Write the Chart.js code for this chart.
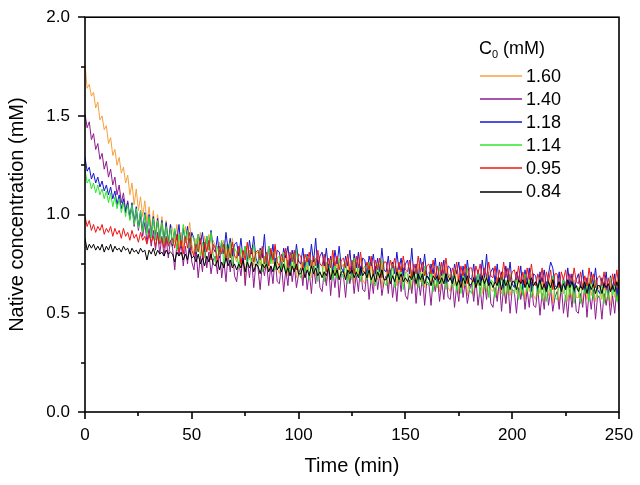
<!DOCTYPE html>
<html lang="en">
<head>
<meta charset="UTF-8" />
<title>Native concentration vs time</title>
<script src="https://cdn.jsdelivr.net/npm/chart.js"></script>
<style>
  body { margin: 0; background: #fff; }
  #wrap { width: 640px; height: 485px; }
</style>
</head>
<body>
<div id="wrap"><canvas id="chart" width="640" height="485"></canvas></div>
<script>
  // C0 values (mM) shown in legend, and their line colours
  const seriesNames = ['1.60', '1.40', '1.18', '1.14', '0.95', '0.84'];
  const seriesColors = ['#f7a03c', '#8e1a8e', '#1414d2', '#2ee62e', '#ee1414', '#000000'];

  // one reading per minute, 0..250 min
  const time = [];
  for (let t = 0; t <= 250; t++) time.push(t);

  const c160 = [1.76,1.64,1.66,1.60,1.62,1.54,1.57,1.48,1.50,1.43,1.45,
    1.36,1.39,1.30,1.33,1.25,1.29,1.21,1.24,1.16,1.20,
    1.10,1.16,1.05,1.13,1.02,1.09,0.99,1.07,0.96,1.04,
    0.92,1.02,0.90,1.00,0.89,0.99,0.87,0.97,0.86,0.95,
    0.93,0.86,0.95,0.84,0.91,0.83,0.94,0.87,0.96,0.85,
    0.80,0.88,0.83,0.91,0.79,0.89,0.82,0.90,0.78,0.87,
    0.84,0.76,0.86,0.81,0.87,0.77,0.85,0.78,0.88,0.79,
    0.76,0.84,0.73,0.81,0.65,0.86,0.77,0.83,0.74,0.80,
    0.81,0.74,0.83,0.72,0.79,0.71,0.82,0.75,0.84,0.73,
    0.70,0.78,0.73,0.81,0.69,0.79,0.72,0.80,0.68,0.77,
    0.75,0.67,0.77,0.72,0.78,0.68,0.76,0.69,0.79,0.70,
    0.69,0.77,0.66,0.74,0.68,0.79,0.70,0.76,0.67,0.73,
    0.75,0.68,0.77,0.66,0.73,0.65,0.76,0.69,0.78,0.67,
    0.65,0.73,0.68,0.76,0.64,0.74,0.67,0.75,0.63,0.72,
    0.71,0.63,0.73,0.68,0.74,0.64,0.72,0.65,0.75,0.66,
    0.65,0.73,0.62,0.70,0.64,0.75,0.66,0.72,0.63,0.69,
    0.71,0.64,0.73,0.62,0.69,0.61,0.72,0.65,0.74,0.63,
    0.61,0.69,0.64,0.72,0.60,0.70,0.63,0.71,0.59,0.68,
    0.67,0.59,0.69,0.64,0.70,0.60,0.68,0.61,0.71,0.62,
    0.61,0.69,0.58,0.66,0.60,0.71,0.55,0.68,0.59,0.65,
    0.67,0.60,0.69,0.58,0.65,0.57,0.68,0.61,0.70,0.59,
    0.57,0.65,0.60,0.68,0.56,0.66,0.59,0.67,0.55,0.64,
    0.63,0.55,0.65,0.60,0.66,0.56,0.64,0.57,0.67,0.58,
    0.58,0.66,0.55,0.63,0.57,0.68,0.59,0.65,0.56,0.62,
    0.64,0.57,0.66,0.55,0.62,0.54,0.65,0.58,0.67,0.56];

  const c140 = [1.51,1.44,1.47,1.38,1.41,1.33,1.36,1.28,1.31,1.23,1.27,
    1.19,1.23,1.15,1.19,1.10,1.15,1.06,1.11,1.02,1.07,
    0.98,1.05,0.94,1.02,0.92,0.99,0.89,0.96,0.86,0.93,
    0.84,0.92,0.82,0.91,0.80,0.89,0.79,0.88,0.78,0.87,
    0.83,0.72,0.85,0.79,0.86,0.74,0.84,0.75,0.88,0.76,
    0.72,0.82,0.68,0.79,0.71,0.85,0.73,0.81,0.70,0.77,
    0.79,0.70,0.82,0.68,0.77,0.66,0.80,0.71,0.83,0.69,
    0.66,0.76,0.69,0.80,0.64,0.77,0.68,0.78,0.63,0.75,
    0.73,0.62,0.75,0.69,0.76,0.64,0.74,0.65,0.78,0.66,
    0.65,0.75,0.61,0.72,0.64,0.78,0.66,0.74,0.63,0.70,
    0.73,0.64,0.76,0.62,0.71,0.60,0.74,0.65,0.77,0.63,
    0.61,0.71,0.64,0.75,0.59,0.72,0.63,0.73,0.58,0.70,
    0.69,0.58,0.71,0.65,0.72,0.60,0.70,0.61,0.74,0.62,
    0.61,0.71,0.57,0.68,0.60,0.74,0.62,0.70,0.59,0.66,
    0.69,0.60,0.72,0.58,0.67,0.56,0.70,0.61,0.73,0.59,
    0.57,0.67,0.60,0.71,0.55,0.68,0.59,0.69,0.54,0.66,
    0.65,0.54,0.67,0.61,0.68,0.56,0.66,0.57,0.70,0.58,
    0.57,0.67,0.53,0.64,0.56,0.70,0.58,0.66,0.55,0.62,
    0.65,0.56,0.68,0.54,0.63,0.52,0.66,0.57,0.69,0.55,
    0.53,0.63,0.56,0.67,0.51,0.64,0.55,0.65,0.50,0.62,
    0.61,0.50,0.63,0.57,0.64,0.52,0.62,0.53,0.66,0.54,
    0.53,0.63,0.49,0.60,0.52,0.66,0.54,0.62,0.51,0.58,
    0.61,0.52,0.64,0.50,0.59,0.48,0.62,0.53,0.65,0.51,
    0.50,0.60,0.53,0.64,0.48,0.61,0.52,0.62,0.47,0.59,
    0.58,0.47,0.60,0.54,0.61,0.49,0.59,0.50,0.63,0.51];

  const c118 = [1.29,1.22,1.24,1.18,1.21,1.16,1.19,1.14,1.17,1.12,1.15,
    1.10,1.14,1.08,1.12,1.05,1.10,1.03,1.08,1.01,1.06,
    0.98,1.06,0.96,1.04,0.94,1.02,0.92,1.01,0.91,1.00,
    0.89,0.99,0.88,0.98,0.87,0.97,0.86,0.96,0.85,0.95,
    0.84,0.92,0.87,0.95,0.83,0.93,0.86,0.94,0.82,0.91,
    0.88,0.80,0.90,0.85,0.91,0.81,0.89,0.82,0.92,0.83,
    0.81,0.89,0.78,0.86,0.80,0.91,0.82,0.88,0.79,0.85,
    0.86,0.79,0.88,0.77,0.84,0.76,0.87,0.80,0.89,0.78,
    0.75,0.83,0.78,0.90,0.74,0.84,0.77,0.85,0.73,0.82,
    0.81,0.73,0.83,0.78,0.84,0.74,0.82,0.75,0.85,0.76,
    0.75,0.83,0.72,0.80,0.74,0.85,0.76,0.88,0.73,0.79,
    0.81,0.74,0.83,0.72,0.79,0.71,0.82,0.75,0.84,0.73,
    0.71,0.79,0.74,0.82,0.70,0.80,0.73,0.81,0.69,0.78,
    0.77,0.69,0.79,0.74,0.80,0.70,0.78,0.71,0.83,0.72,
    0.71,0.79,0.68,0.76,0.70,0.81,0.72,0.78,0.69,0.75,
    0.77,0.70,0.83,0.68,0.75,0.67,0.78,0.71,0.80,0.69,
    0.67,0.75,0.70,0.78,0.66,0.76,0.69,0.77,0.65,0.74,
    0.73,0.65,0.75,0.70,0.76,0.66,0.74,0.67,0.77,0.68,
    0.67,0.75,0.64,0.72,0.66,0.77,0.68,0.80,0.65,0.71,
    0.73,0.66,0.75,0.64,0.71,0.63,0.74,0.67,0.76,0.65,
    0.63,0.71,0.66,0.74,0.62,0.72,0.65,0.73,0.61,0.70,
    0.69,0.61,0.71,0.66,0.72,0.62,0.70,0.76,0.73,0.64,
    0.63,0.71,0.60,0.68,0.62,0.73,0.64,0.70,0.61,0.67,
    0.70,0.63,0.72,0.61,0.68,0.60,0.71,0.64,0.73,0.62,
    0.60,0.68,0.63,0.71,0.59,0.69,0.62,0.70,0.58,0.67];

  const c114 = [1.23,1.16,1.18,1.13,1.16,1.11,1.15,1.10,1.13,1.08,1.12,
    1.06,1.11,1.04,1.09,1.03,1.08,1.01,1.06,0.99,1.05,
    0.97,1.05,0.95,1.03,0.93,1.02,0.91,1.00,0.90,0.99,
    0.88,0.98,0.87,0.97,0.86,0.96,0.85,0.94,0.84,0.93,
    0.85,0.93,0.82,0.90,0.84,0.95,0.86,0.92,0.83,0.89,
    0.88,0.81,0.90,0.79,0.86,0.78,0.89,0.82,0.91,0.80,
    0.76,0.84,0.79,0.87,0.75,0.85,0.78,0.86,0.74,0.83,
    0.81,0.73,0.83,0.78,0.84,0.74,0.82,0.75,0.85,0.76,
    0.74,0.82,0.71,0.79,0.73,0.84,0.75,0.81,0.72,0.78,
    0.79,0.72,0.81,0.70,0.77,0.69,0.80,0.73,0.82,0.71,
    0.68,0.76,0.71,0.79,0.67,0.77,0.70,0.78,0.66,0.75,
    0.74,0.66,0.76,0.71,0.77,0.67,0.75,0.68,0.78,0.69,
    0.68,0.76,0.65,0.73,0.67,0.78,0.69,0.75,0.66,0.72,
    0.74,0.67,0.76,0.65,0.72,0.64,0.75,0.68,0.77,0.66,
    0.64,0.72,0.67,0.75,0.63,0.73,0.66,0.74,0.62,0.71,
    0.70,0.62,0.72,0.67,0.73,0.63,0.71,0.64,0.74,0.65,
    0.64,0.72,0.61,0.69,0.63,0.74,0.65,0.71,0.62,0.68,
    0.70,0.63,0.72,0.61,0.68,0.60,0.71,0.64,0.73,0.62,
    0.60,0.68,0.63,0.71,0.59,0.69,0.62,0.70,0.58,0.67,
    0.66,0.58,0.68,0.63,0.69,0.59,0.67,0.60,0.70,0.61,
    0.60,0.68,0.57,0.65,0.59,0.70,0.61,0.67,0.58,0.64,
    0.66,0.59,0.68,0.57,0.64,0.56,0.67,0.60,0.69,0.58,
    0.57,0.65,0.60,0.68,0.56,0.66,0.59,0.67,0.55,0.64,
    0.63,0.55,0.65,0.60,0.66,0.56,0.68,0.57,0.67,0.58,
    0.58,0.66,0.55,0.63,0.57,0.68,0.59,0.65,0.56,0.62];

  const c095 = [0.99,0.94,0.97,0.92,0.95,0.91,0.94,0.92,0.95,0.90,0.93,
    0.91,0.94,0.89,0.93,0.90,0.92,0.88,0.93,0.89,0.91,
    0.87,0.92,0.88,0.90,0.86,0.91,0.87,0.89,0.85,0.90,
    0.86,0.89,0.84,0.90,0.85,0.88,0.83,0.89,0.84,0.87,
    0.88,0.83,0.90,0.81,0.87,0.80,0.89,0.83,0.91,0.82,
    0.79,0.85,0.81,0.88,0.78,0.86,0.81,0.87,0.77,0.85,
    0.83,0.76,0.84,0.80,0.85,0.77,0.83,0.78,0.86,0.79,
    0.78,0.84,0.75,0.82,0.77,0.86,0.78,0.83,0.76,0.81,
    0.82,0.77,0.84,0.75,0.81,0.74,0.83,0.77,0.85,0.76,
    0.74,0.80,0.76,0.83,0.73,0.81,0.76,0.82,0.72,0.80,
    0.79,0.72,0.80,0.76,0.81,0.73,0.79,0.74,0.82,0.75,
    0.74,0.80,0.71,0.78,0.73,0.82,0.74,0.79,0.72,0.77,
    0.78,0.73,0.80,0.71,0.77,0.70,0.79,0.73,0.81,0.72,
    0.70,0.76,0.72,0.79,0.69,0.77,0.72,0.78,0.68,0.76,
    0.76,0.69,0.77,0.73,0.78,0.70,0.76,0.71,0.79,0.72,
    0.71,0.77,0.68,0.75,0.70,0.79,0.71,0.76,0.69,0.74,
    0.75,0.70,0.77,0.68,0.74,0.67,0.76,0.70,0.78,0.69,
    0.67,0.73,0.69,0.76,0.66,0.74,0.69,0.75,0.65,0.73,
    0.73,0.66,0.74,0.70,0.75,0.67,0.73,0.68,0.76,0.69,
    0.68,0.74,0.65,0.72,0.67,0.76,0.68,0.73,0.66,0.71,
    0.72,0.67,0.74,0.65,0.71,0.64,0.73,0.67,0.75,0.66,
    0.64,0.70,0.66,0.73,0.63,0.71,0.66,0.72,0.62,0.70,
    0.70,0.63,0.71,0.67,0.72,0.64,0.70,0.65,0.73,0.66,
    0.65,0.71,0.62,0.69,0.64,0.73,0.65,0.70,0.63,0.68,
    0.69,0.64,0.71,0.62,0.68,0.61,0.70,0.64,0.72,0.63];

  const c084 = [0.88,0.82,0.85,0.83,0.85,0.82,0.84,0.82,0.85,0.81,0.84,
    0.82,0.85,0.81,0.84,0.82,0.83,0.81,0.84,0.82,0.83,
    0.80,0.83,0.81,0.82,0.80,0.83,0.81,0.82,0.77,0.82,
    0.80,0.83,0.79,0.82,0.80,0.81,0.79,0.82,0.80,0.81,
    0.80,0.76,0.81,0.79,0.81,0.77,0.80,0.77,0.82,0.78,
    0.79,0.76,0.80,0.75,0.78,0.74,0.79,0.76,0.80,0.75,
    0.74,0.77,0.72,0.76,0.73,0.78,0.74,0.77,0.73,0.75,
    0.72,0.75,0.73,0.77,0.71,0.76,0.73,0.76,0.71,0.75,
    0.74,0.70,0.75,0.73,0.75,0.71,0.74,0.71,0.76,0.72,
    0.74,0.71,0.75,0.70,0.73,0.69,0.74,0.71,0.75,0.70,
    0.70,0.73,0.68,0.72,0.69,0.74,0.70,0.73,0.69,0.71,
    0.68,0.71,0.69,0.73,0.67,0.72,0.69,0.72,0.67,0.71,
    0.71,0.67,0.72,0.70,0.72,0.68,0.71,0.68,0.73,0.69,
    0.71,0.68,0.72,0.67,0.70,0.66,0.71,0.68,0.72,0.67,
    0.67,0.70,0.65,0.69,0.66,0.71,0.67,0.70,0.66,0.68,
    0.66,0.69,0.67,0.71,0.65,0.70,0.67,0.70,0.65,0.69,
    0.68,0.64,0.69,0.67,0.69,0.65,0.68,0.65,0.70,0.66,
    0.68,0.65,0.69,0.64,0.67,0.63,0.68,0.65,0.69,0.64,
    0.65,0.68,0.63,0.67,0.64,0.69,0.65,0.68,0.64,0.66,
    0.63,0.66,0.64,0.68,0.62,0.67,0.64,0.67,0.62,0.66,
    0.66,0.62,0.67,0.65,0.67,0.63,0.66,0.63,0.68,0.64,
    0.66,0.63,0.67,0.62,0.65,0.61,0.66,0.63,0.67,0.62,
    0.63,0.66,0.61,0.65,0.62,0.67,0.63,0.66,0.62,0.64,
    0.61,0.64,0.62,0.66,0.60,0.65,0.62,0.65,0.60,0.64,
    0.64,0.60,0.65,0.63,0.65,0.61,0.64,0.61,0.66,0.62];

  const allSeries = [c160, c140, c118, c114, c095, c084];

  const FONT = "Arial, 'Liberation Sans', sans-serif";

  // box, outward major/minor ticks, axis titles and the legend
  const decorations = {
    id: 'decorations',
    afterDatasetsDraw(chart) {
      const { ctx, chartArea: a, scales: { x, y } } = chart;
      ctx.save();
      ctx.strokeStyle = '#000';
      ctx.lineWidth = 1.6;
      ctx.strokeRect(a.left, a.top, a.right - a.left, a.bottom - a.top);

      ctx.beginPath();
      for (let v = 0; v <= 250; v += 25) {
        const px = Math.round(x.getPixelForValue(v));
        ctx.moveTo(px, a.bottom);
        ctx.lineTo(px, a.bottom + (v % 50 === 0 ? 7 : 4));
      }
      for (let v = 0; v <= 2; v += 0.25) {
        const py = Math.round(y.getPixelForValue(v));
        ctx.moveTo(a.left, py);
        ctx.lineTo(a.left - (v % 0.5 === 0 ? 7 : 4), py);
      }
      ctx.stroke();

      ctx.fillStyle = '#000';
      ctx.font = '20px ' + FONT;
      ctx.textAlign = 'center';
      ctx.textBaseline = 'middle';
      ctx.fillText('Time (min)', (a.left + a.right) / 2, 466);

      ctx.save();
      ctx.translate(17, (a.top + a.bottom) / 2);
      ctx.rotate(-Math.PI / 2);
      ctx.fillText('Native concentration (mM)', 0, 0);
      ctx.restore();

      // legend
      ctx.textAlign = 'left';
      ctx.font = '18px ' + FONT;
      ctx.fillText('C', 479, 49);
      const cw = ctx.measureText('C').width;
      ctx.font = '11px ' + FONT;
      ctx.fillText('0', 479 + cw, 55);
      const zw = ctx.measureText('0').width;
      ctx.font = '18px ' + FONT;
      ctx.fillText(' (mM)', 479 + cw + zw, 49);

      ctx.lineWidth = 1.5;
      seriesNames.forEach((name, i) => {
        const ry = 76 + i * 23.1;
        ctx.strokeStyle = seriesColors[i];
        ctx.beginPath();
        ctx.moveTo(480, Math.round(ry));
        ctx.lineTo(522, Math.round(ry));
        ctx.stroke();
        ctx.fillText(name, 526, ry + 1);
      });
      ctx.restore();
    }
  };

  new Chart(document.getElementById('chart'), {
    type: 'line',
    data: {
      datasets: allSeries.map((s, i) => ({
        label: seriesNames[i],
        data: s.map((v, k) => ({ x: time[k], y: v })),
        borderColor: seriesColors[i],
        borderWidth: 1,
        pointRadius: 0,
        tension: 0,
        order: allSeries.length - i
      }))
    },
    options: {
      responsive: false,
      animation: false,
      layout: { padding: { top: 14, right: 21, left: 0, bottom: 0 } },
      plugins: { legend: { display: false }, tooltip: { enabled: false } },
      scales: {
        x: {
          type: 'linear',
          min: 0, max: 250,
          grid: { display: false },
          border: { display: false },
          ticks: { stepSize: 50, color: '#000', font: { size: 17, family: FONT }, padding: 5, maxRotation: 0 },
          afterFit(scale) { scale.height = 73; }
        },
        y: {
          min: 0, max: 2,
          grid: { display: false },
          border: { display: false },
          ticks: { stepSize: 0.5, color: '#000', font: { size: 17, family: FONT }, padding: 7,
            callback: v => v.toFixed(1) },
          afterFit(scale) { scale.width = 85; }
        }
      }
    },
    plugins: [decorations]
  });
</script>
</body>
</html>
